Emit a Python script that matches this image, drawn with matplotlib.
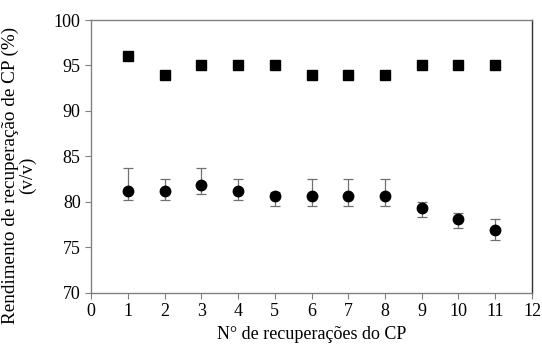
import numpy as np
import matplotlib
matplotlib.use("Agg")
import matplotlib.pyplot as plt

plt.rcParams['font.family'] = ['Liberation Serif', 'DejaVu Serif']

# Data
n_recup = [1, 2, 3, 4, 5, 6, 7, 8, 9, 10, 11]
quadrados = [96, 94, 95, 95, 95, 94, 94, 94, 95, 95, 95]
circulos = [81.2, 81.2, 81.9, 81.2, 80.6, 80.6, 80.6, 80.6, 79.3, 78.1, 76.9]
erro_sup = [2.5, 1.3, 1.8, 1.3, 0.5, 1.9, 1.9, 1.9, 0.7, 0.65, 1.25]
erro_inf = [1.0, 1.0, 1.05, 1.0, 1.0, 1.0, 1.0, 1.0, 1.0, 1.0, 1.05]

fig = plt.figure(figsize=(5.42, 3.45), dpi=100)
ax = fig.add_axes([0.168, 0.151, 0.8135, 0.791])

ax.plot(n_recup, quadrados, 's', color='black', markersize=6.5, linestyle='none')
ax.errorbar(n_recup, circulos, yerr=[erro_inf, erro_sup], fmt='o', color='black',
            markersize=7.5, ecolor='#707070', elinewidth=0.9, capsize=3.5, capthick=0.9)

ax.set_xlim(0, 12)
ax.set_ylim(70, 100)
ax.set_xticks(range(0, 13))
ax.set_yticks(range(70, 101, 5))

for s in ax.spines.values():
    s.set_color('#808080')
    s.set_linewidth(1.0)
ax.spines['right'].set_color('#303030')
ax.tick_params(axis='both', direction='out', length=4, color='#808080',
               labelsize=13, labelcolor='black')

ax.set_xlabel('N° de recuperações do CP', fontsize=13, labelpad=4)
ax.set_ylabel('Rendimento de recuperação de CP (%)\n(v/v)', fontsize=13.8,
              linespacing=0.95)
ax.yaxis.set_label_coords(-0.125, 0.43)

fig.savefig('out.png', dpi=100)
